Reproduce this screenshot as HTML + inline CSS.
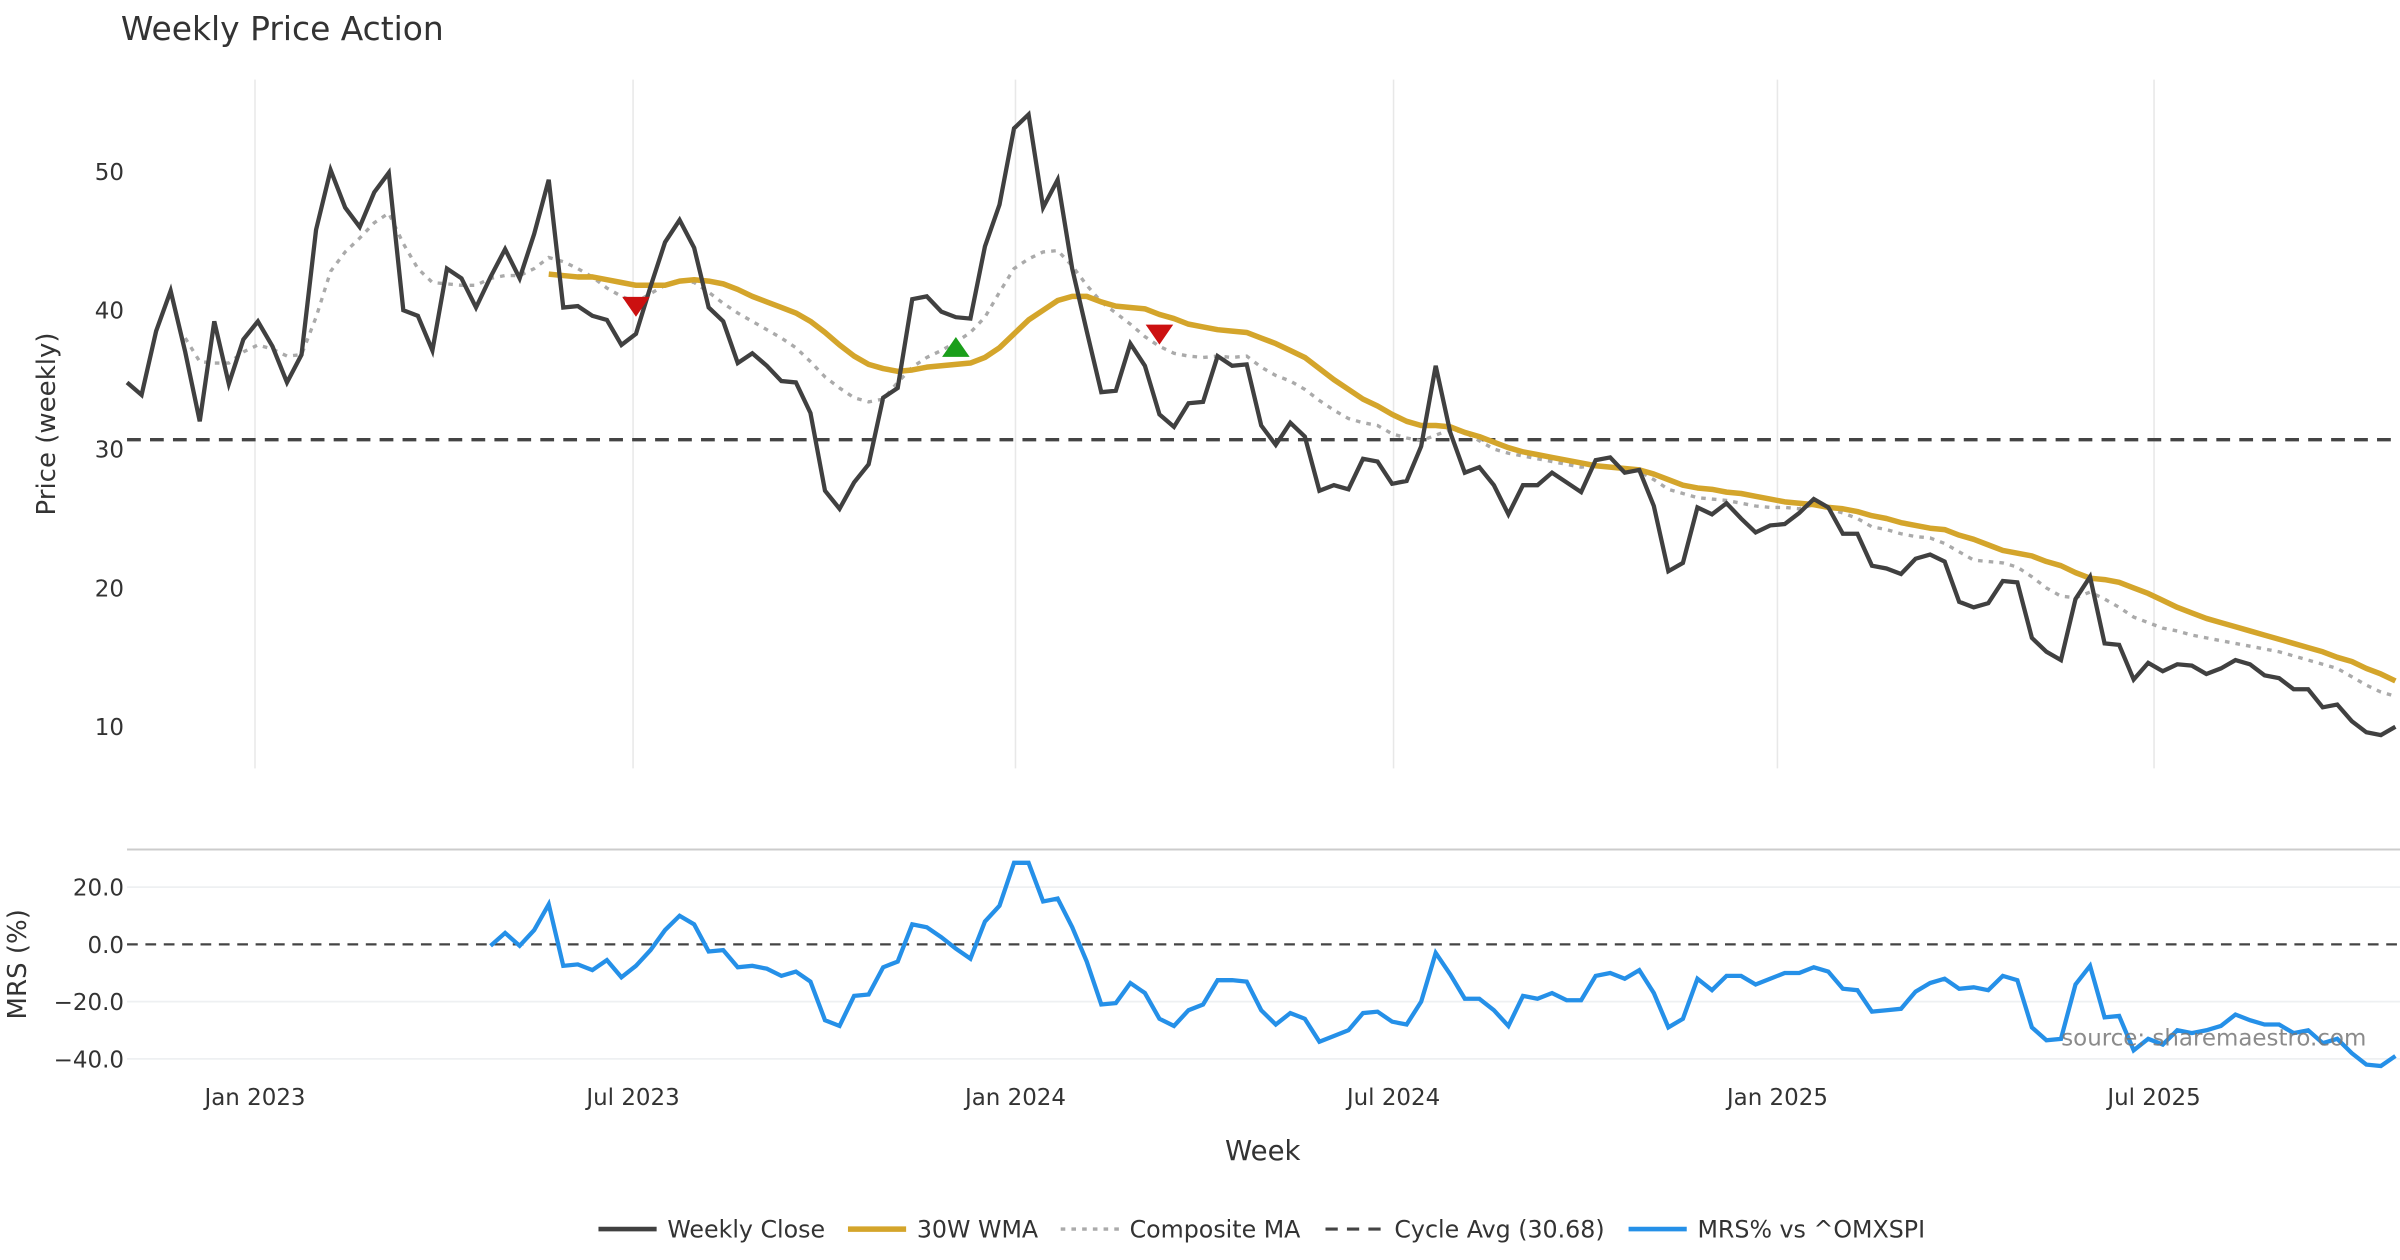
<!DOCTYPE html>
<html><head><meta charset="utf-8"><style>
html,body{margin:0;padding:0;background:#fff;}
svg{display:block;font-family:"DejaVu Sans","Liberation Sans",sans-serif;}
</style></head><body>
<svg id="chart" width="2400" height="1260" viewBox="0 0 1568 823.2" xmlns="http://www.w3.org/2000/svg">
<text x="79" y="26" font-size="21.5" fill="#333">Weekly Price Action</text>
<g id="grid"></g>
<g id="series"></g>
<text transform="translate(36,277) rotate(-90)" text-anchor="middle" font-size="17" fill="#333">Price (weekly)</text>
<text transform="translate(17,630) rotate(-90)" text-anchor="middle" font-size="17" fill="#333">MRS (%)</text>
<text x="825" y="758" text-anchor="middle" font-size="18" fill="#333">Week</text>
<text x="1546" y="683" text-anchor="end" font-size="15" fill="#777" fill-opacity="0.85">source: sharemaestro.com</text>
<g id="legend"></g>
</svg>
<script>
const closes=[34.8,33.9,38.5,41.4,37,32,39.2,34.7,37.9,39.2,37.4,34.8,36.8,45.8,50.1,47.4,46,48.5,49.9,40,39.6,37.1,43,42.3,40.2,42.4,44.4,42.3,45.5,49.4,40.2,40.3,39.6,39.3,37.5,38.3,41.7,44.9,46.5,44.5,40.2,39.2,36.2,36.9,36,34.9,34.8,32.6,27,25.7,27.6,28.9,33.7,34.4,40.8,41,39.9,39.5,39.4,44.6,47.6,53.1,54.1,47.4,49.4,43,38.5,34.1,34.2,37.6,36,32.5,31.6,33.3,33.4,36.7,36,36.1,31.7,30.3,31.9,30.9,27,27.4,27.1,29.3,29.1,27.5,27.7,30.2,36,31.2,28.3,28.7,27.4,25.3,27.4,27.4,28.3,27.6,26.9,29.2,29.4,28.3,28.5,25.9,21.2,21.8,25.8,25.3,26.1,25,24,24.5,24.6,25.4,26.4,25.8,23.9,23.9,21.6,21.4,21,22.1,22.4,21.9,19,18.6,18.9,20.5,20.4,16.4,15.4,14.8,19.2,20.8,16,15.9,13.4,14.6,14,14.5,14.4,13.8,14.2,14.8,14.5,13.7,13.5,12.7,12.7,11.4,11.6,10.4,9.6,9.4,10];
const wmaStart=29;
const wma=[42.6,42.5,42.4,42.4,42.2,42,41.8,41.8,41.8,42.1,42.2,42.1,41.9,41.5,41,40.6,40.2,39.8,39.2,38.4,37.5,36.7,36.1,35.8,35.6,35.7,35.9,36,36.1,36.2,36.6,37.3,38.3,39.3,40,40.7,41,41,40.6,40.3,40.2,40.1,39.7,39.4,39,38.8,38.6,38.5,38.4,38,37.6,37.1,36.6,35.8,35,34.3,33.6,33.1,32.5,32,31.7,31.7,31.6,31.2,30.9,30.5,30.1,29.8,29.6,29.4,29.2,29,28.8,28.7,28.6,28.5,28.2,27.8,27.4,27.2,27.1,26.9,26.8,26.6,26.4,26.2,26.1,26,25.8,25.7,25.5,25.2,25,24.7,24.5,24.3,24.2,23.8,23.5,23.1,22.7,22.5,22.3,21.9,21.6,21.1,20.7,20.6,20.4,20,19.6,19.1,18.6,18.2,17.8,17.5,17.2,16.9,16.6,16.3,16,15.7,15.4,15,14.7,14.2,13.8,13.3];
const compStart=4;
const composite=[38,36.3,36.2,36.2,37,37.5,37.2,36.7,36.8,39.5,42.8,44.2,45.2,46.3,47,44.8,43,42,41.9,41.8,41.8,42.3,42.5,42.5,43,43.8,43.5,43,42.4,41.6,41,40.6,41.2,41.8,42.2,42,41.3,40.5,39.8,39.2,38.6,38,37.3,36.3,35.2,34.4,33.7,33.4,33.6,34.8,35.9,36.6,37.1,37.7,38.4,39.5,41.3,43,43.7,44.2,44.3,43.2,41.8,40.6,39.8,39,38.1,37.4,36.9,36.7,36.6,36.7,36.6,36.7,35.9,35.3,34.9,34.3,33.5,32.8,32.2,31.9,31.7,31.1,30.8,30.6,31,31.4,31.2,30.6,30,29.7,29.5,29.3,29.1,28.9,28.7,28.8,28.7,28.6,28.4,27.8,27.1,26.8,26.5,26.4,26.3,26.1,25.9,25.8,25.8,25.7,26,25.7,25.4,25,24.4,24.2,23.9,23.7,23.6,23.2,22.6,22,21.9,21.8,21.5,20.8,20,19.4,19.3,19.7,19.2,18.6,17.9,17.5,17.1,16.9,16.6,16.4,16.2,16,15.8,15.6,15.4,15.1,14.8,14.5,14.2,13.6,13,12.5,12.2];
const mrsStart=25;
const mrs=[-0.5,4,-0.5,5,14,-7.5,-7,-9,-5.5,-11.5,-7.5,-2,5,10,7,-2.5,-2,-8,-7.5,-8.5,-11,-9.5,-13,-26.5,-28.5,-18,-17.5,-8,-6,7,6,2.5,-1.5,-5,8,13.5,28.5,28.5,15,16,6,-6,-21,-20.5,-13.5,-17,-26,-28.5,-23,-21,-12.5,-12.5,-13,-23,-28,-24,-26,-34,-32,-30,-24,-23.5,-27,-28,-20,-3,-10.5,-19,-19,-23,-28.5,-18,-19,-17,-19.5,-19.5,-11,-10,-12,-9,-17,-29,-26,-12,-16,-11,-11,-14,-12,-10,-10,-8,-9.5,-15.5,-16,-23.5,-23,-22.5,-16.5,-13.5,-12,-15.5,-15,-16,-11,-12.5,-29,-33.5,-33,-14,-7.5,-25.5,-25,-37,-33,-35,-30,-31,-30,-28.5,-24.5,-26.5,-28,-28,-31,-30,-34.5,-33,-38,-42,-42.5,-39];
const cycleAvg=30.68;
const sellIdx=[35,71];
const sellPrice=[40.3,38.3];
const buyIdx=[57];
const buyPrice=[37.3];
const priceTicks=[10,20,30,40,50];
const mrsTicks=[20,0,-20,-40];
const mrsTickLabels=["20.0","0.0","\u221220.0","\u221240.0"];
const dateLabels=["Jan 2023","Jul 2023","Jan 2024","Jul 2024","Jan 2025","Jul 2025"];
const dateIdx=[8.8,34.8,61.1,87.1,113.5,139.4];

const NS="http://www.w3.org/2000/svg";
const X0=83,X1=1565;
const n=closes.length;
const xs=i=>X0+i*(X1-X0)/(n-1);
const yp=v=>112+(50-v)*9.07;
const ym=v=>617-v*1.87;
const grid=document.getElementById('grid'),series=document.getElementById('series'),legend=document.getElementById('legend');
function mk(tag,attrs,parent){const e=document.createElementNS(NS,tag);for(const k in attrs)e.setAttribute(k,attrs[k]);parent.appendChild(e);return e;}
function pathFrom(arr,start,yf){let d='';arr.forEach((v,j)=>{d+=(j?'L':'M')+xs(start+j).toFixed(2)+','+yf(v).toFixed(2);});return d;}

dateIdx.forEach((di,k)=>{
  const g=mk('line',{x1:xs(di),x2:xs(di),y1:52,y2:502,stroke:'#e8e8e8','stroke-width':1},grid);
  
  
  const t=mk('text',{x:xs(di),y:722,'text-anchor':'middle','font-size':15,fill:'#333'},grid);
  t.textContent=dateLabels[k];
  
  
});
priceTicks.forEach(v=>{
  const t=mk('text',{x:81,y:yp(v)+5.5,'text-anchor':'end','font-size':15,fill:'#333'},grid);
  t.textContent=v;
  
  
});
const sep=mk('line',{x1:83,x2:1568,y1:555,y2:555,stroke:'#ccc','stroke-width':1.3},grid);


mrsTicks.forEach((v,k)=>{
  if(v!==0){const l=mk('line',{x1:83,x2:1568,y1:ym(v),y2:ym(v),stroke:'#eef0f2','stroke-width':1.2},grid);
  
  }
  const t=mk('text',{x:81,y:ym(v)+5.5,'text-anchor':'end','font-size':15,fill:'#333'},grid);
  t.textContent=mrsTickLabels[k];
  
  
});
const z=mk('line',{x1:83,x2:1568,y1:ym(0),y2:ym(0),stroke:'#444','stroke-width':1.5,'stroke-dasharray':'7,5'},grid);



const ca=mk('line',{x1:83,x2:1568,y1:yp(cycleAvg),y2:yp(cycleAvg),stroke:'#444','stroke-width':2.2,'stroke-dasharray':'9,6'},series);


const cp=mk('path',{d:pathFrom(composite,compStart,yp),fill:'none',stroke:'#aaa','stroke-width':2.2,'stroke-dasharray':'3,4'},series);


const wp=mk('path',{d:pathFrom(wma,wmaStart,yp),fill:'none',stroke:'#d4a52b','stroke-width':3.6,'stroke-linejoin':'round'},series);


const cl=mk('path',{d:pathFrom(closes,0,yp),fill:'none',stroke:'#404040','stroke-width':2.8},series);


const mp=mk('path',{d:pathFrom(mrs,mrsStart,ym),fill:'none',stroke:'#2590e8','stroke-width':2.8},series);


sellIdx.forEach((si,k)=>{
  const x=xs(si),y=yp(sellPrice[k]);
  const t=mk('polygon',{points:`${x-9},${y-6} ${x+9},${y-6} ${x},${y+7}`,fill:'#cc1010'},series);
  
  
});
buyIdx.forEach((bi,k)=>{
  const x=xs(bi),y=yp(buyPrice[k]);
  const t=mk('polygon',{points:`${x-9},${y+6} ${x+9},${y+6} ${x},${y-7}`,fill:'#1a9e1a'},series);
  
  
});

const items=[
 {label:'Weekly Close',stroke:'#404040',w:3,dash:''},
 {label:'30W WMA',stroke:'#d4a52b',w:3.6,dash:''},
 {label:'Composite MA',stroke:'#aaa',w:2.2,dash:'3,4'},
 {label:'Cycle Avg (30.68)',stroke:'#444',w:2,dash:'8,6'},
 {label:'MRS% vs ^OMXSPI',stroke:'#2590e8',w:3,dash:''}];
const lx=[391,554,693,866,1064];
items.forEach((it,k)=>{
  const g=mk('g',{},legend);
  
  
  mk('line',{x1:lx[k],x2:lx[k]+38,y1:803,y2:803,stroke:it.stroke,'stroke-width':it.w,'stroke-dasharray':it.dash},g);
  const t=mk('text',{x:lx[k]+45,y:808.5,'font-size':15.5,fill:'#333'},g);
  t.textContent=it.label;
});
</script>
</body></html>
